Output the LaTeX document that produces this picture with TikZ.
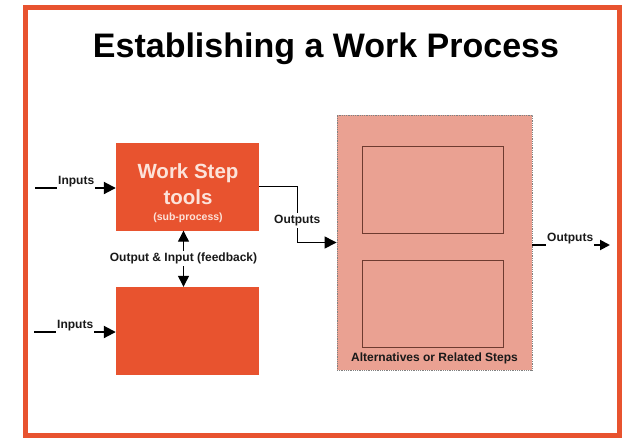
\documentclass[tikz,border=0pt]{standalone}
\usepackage{fontspec}
\setmainfont{Liberation Sans}
\usetikzlibrary{arrows.meta}
\definecolor{wpred}{HTML}{E8532F}
\definecolor{wpsalmon}{HTML}{EAA192}
\definecolor{wpbrown}{HTML}{6E3B30}
\definecolor{wplight}{HTML}{FCE3DA}
\tikzset{
  wsbox/.style={fill=wpred, minimum width=143pt, minimum height=88pt, inner sep=0pt},
  wstxt/.style={anchor=base, text=wplight, font=\bfseries\fontsize{20.5}{24}\selectfont, inner sep=0pt},
  altbox/.style={fill=wpsalmon, draw=gray, densely dotted, line width=0.8pt, minimum width=195pt, minimum height=255pt},
  altstep/.style={fill=wpsalmon, draw=wpbrown, line width=1pt, minimum width=141pt, minimum height=87pt},
  lbl/.style={font=\bfseries\fontsize{12}{14}\selectfont, text=black!90, inner sep=1pt},
  flow/.style={-{Triangle[length=12pt,width=12pt]}, line width=2pt},
}
\begin{document}
\begin{tikzpicture}[x=1pt, y=-1pt, node distance=144.5pt]
\useasboundingbox (0,0) rectangle (624,437);
\fill[white] (0,0) rectangle (624,437);
\draw[wpred, line width=5pt] (25.5,7.5) rectangle (619.5,435.5);

\node (title) [anchor=base, font=\bfseries\fontsize{34}{40}\selectfont] at (326,57) {Establishing a Work Process};

% left column
\node (ws)  [wsbox] at (187.5,186.5) {};
\node (ws2) [wsbox, below of=ws] {};
\node (wsl1) [wstxt] at (188,178) {Work Step};
\node (wsl2) [wstxt] at (188,204) {tools};
\node (wsl3) [wstxt, font=\bfseries\fontsize{10.5}{12}\selectfont] at (188,220.5) {(sub-process)};

% right column
\node (alt)  [altbox] at (434.5,242.5) {};
\node (alt1) [altstep] at (432.5,189.5) {};
\node (alt2) [altstep, below of=alt1, node distance=114.5pt] {};
\node (altlbl) [lbl] at (434.5,358) {Alternatives or Related Steps};

% inputs
\coordinate (in1) at (35,188);
\coordinate (in2) at (34,332);
\node (inl1) [lbl, anchor=south west] at (57,188) {Inputs};
\node (inl2) [lbl, anchor=south west] at (56,332) {Inputs};
\draw[line width=2pt] (in1) -- (inl1.south west);
\draw[flow] (inl1.south east) -- (ws.west |- inl1.south east);
\draw[line width=2pt] (in2) -- (inl2.south west);
\draw[flow] (inl2.south east) -- (ws2.west |- inl2.south east);

% feedback
\draw[{Triangle[length=11pt,width=11pt]}-{Triangle[length=11pt,width=11pt]}, line width=1.2pt]
  ([xshift=-4pt]ws.south) -- node (fb) [lbl, fill=white, inner sep=2pt] {Output \& Input (feedback)} ([xshift=-4pt]ws2.north);

% outputs
\draw[-{Triangle[length=12pt,width=12pt]}, line width=1pt] (ws.east) -- ++(38,0)
  |- node (outl1) [lbl, fill=white, pos=0.3, inner sep=2pt] {Outputs} (alt.west);
\coordinate (out) at (610,245);
\node (outl2) [lbl, anchor=south west] at (546,245) {Outputs};
\draw[line width=2pt] (alt.east |- out) -- (outl2.south west);
\draw[flow, -{Triangle[length=10pt,width=10pt]}] (outl2.south east) -- (out);
\end{tikzpicture}
\end{document}
